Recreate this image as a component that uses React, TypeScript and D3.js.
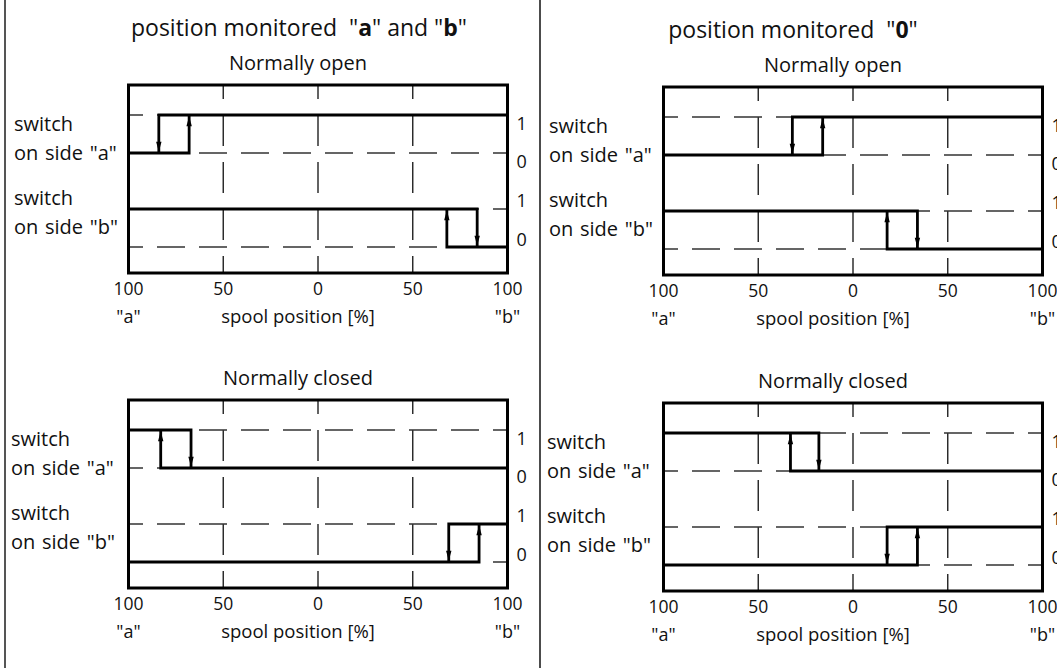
import React from 'react';
import * as d3 from 'd3';

const spoolTicks = [-100, -50, 0, 50, 100];
const endLabels = ['"a"', '"b"'];
const stateLabels = ['1', '0'];
const switchNames = ['a', 'b'];

// switching points [x1, x2] in % of spool stroke, "a" side negative
const abOpen = [[-84, -68], [68, 84]];
const abClosed = [[-83, -67], [69, 85]];
const zeroOpen = [[-32, -16], [18, 34]];
const zeroClosed = [[-33, -18], [18, 34]];

// switch state at the "a" end of the stroke, per switch a / b
const openStart = [0, 1];
const closedStart = [1, 0];

const W = 1057;
const H = 668;
const BOX_W = 379;
const BOX_H = 188;
const FONT = '"Open Sans", "Noto Sans", sans-serif';

type PanelProps = {
  left: number;
  top: number;
  labelX: number;
  subtitle: string;
  edges: number[][];
  start: number[];
};

const Panel: React.FC<PanelProps> = ({ left, top, labelX, subtitle, edges, start }) => {
  const x = d3.scaleLinear().domain([-100, 100]).range([left, left + BOX_W]);
  const cx = left + BOX_W / 2 - 20;

  // y of state 0/1 for switch i
  const level = (i: number, s: number) => top + 30 + i * 94 + (s === 1 ? 0 : 38);

  // arrowhead sitting on the vertical, tip on the target level
  const arrow = (px: number, fromY: number, toY: number) => {
    const sign = toY > fromY ? 1 : -1;
    const tip = toY - sign * 1.3;
    const base = tip - sign * 10;
    return `M${px},${tip}L${px - 2.7},${base}L${px + 2.7},${base}Z`;
  };

  return (
    <g>
      <text x={cx} y={top - 15} textAnchor="middle" fontSize={20}>{subtitle}</text>

      {/* vertical grid */}
      {spoolTicks.slice(1, -1).map(t => (
        <line key={t} x1={x(t)} x2={x(t)} y1={top} y2={top + BOX_H}
          stroke="#222" strokeWidth={1.4} strokeDasharray="31 16" strokeDashoffset={17} />
      ))}

      {/* dashed state levels */}
      {switchNames.map((_, i) => [1, 0].map(s => (
        <line key={`${i}-${s}`} x1={left} x2={left + BOX_W} y1={level(i, s)} y2={level(i, s)}
          stroke="#333" strokeWidth={1.3} strokeDasharray="28 14" strokeDashoffset={13.5} />
      )))}

      {/* switching traces */}
      {edges.map(([x1, x2], i) => {
        const s = start[i];
        const o = 1 - s;
        const p = d3.path();
        p.moveTo(x(-100), level(i, s));
        p.lineTo(x(x2), level(i, s));
        p.lineTo(x(x2), level(i, o));
        p.moveTo(x(x1), level(i, s));
        p.lineTo(x(x1), level(i, o));
        p.lineTo(x(100), level(i, o));
        return (
          <g key={i}>
            <path d={p.toString()} fill="none" stroke="#000" strokeWidth={2.8} />
            <path d={arrow(x(x2), level(i, s), level(i, o))} fill="#000" />
            <path d={arrow(x(x1), level(i, o), level(i, s))} fill="#000" />
          </g>
        );
      })}

      <rect x={left} y={top} width={BOX_W} height={BOX_H} fill="none" stroke="#000" strokeWidth={3} />

      {/* switch labels */}
      {switchNames.map((n, i) => (
        <g key={n} fontSize={20} wordSpacing={1.5}>
          <text x={labelX} y={top + 46 + i * 74}>switch</text>
          <text x={labelX} y={top + 75 + i * 74}>on side "{n}"</text>
        </g>
      ))}

      {/* state labels on the right */}
      {switchNames.map((n, i) => stateLabels.map((l, j) => (
        <text key={`${n}${l}`} x={left + BOX_W + 9} y={top + 45 + i * 77 + j * 38 + (i === 1 ? j : 0)}
          fontSize={18}>{l}</text>
      )))}

      {/* spool axis */}
      {spoolTicks.map(t => (
        <text key={t} x={x(t)} y={top + 210} textAnchor="middle" fontSize={17.5}>{Math.abs(t)}</text>
      ))}
      {endLabels.map((l, i) => (
        <text key={l} x={x(i === 0 ? -100 : 100)} y={top + 238} textAnchor="middle" fontSize={18}>{l}</text>
      ))}
      <text x={cx} y={top + 238} textAnchor="middle" fontSize={18.5}>spool position [%]</text>
    </g>
  );
};

export default function App() {
  return (
    <svg width={W} height={H} viewBox={`0 0 ${W} ${H}`}
      style={{ position: 'absolute', left: 0, top: 0, display: 'block', background: '#fff' }}
      fontFamily={FONT} fill="#111">
      <line x1={5} x2={5} y1={0} y2={H} stroke="#555" strokeWidth={2} />
      <line x1={540} x2={540} y1={0} y2={H} stroke="#111" strokeWidth={1.5} />

      <text x={299} y={36} textAnchor="middle" fontSize={23}>
        {'position monitored\u00A0 "'}<tspan fontWeight="bold">a</tspan>{'" and "'}<tspan fontWeight="bold">b</tspan>{'"'}
      </text>
      <text x={793} y={38} textAnchor="middle" fontSize={23}>
        {'position monitored\u00A0 "'}<tspan fontWeight="bold">0</tspan>{'"'}
      </text>

      <Panel left={128.5} top={85} labelX={14} subtitle="Normally open" edges={abOpen} start={openStart} />
      <Panel left={128.5} top={400} labelX={11} subtitle="Normally closed" edges={abClosed} start={closedStart} />
      <Panel left={663.5} top={87} labelX={549} subtitle="Normally open" edges={zeroOpen} start={openStart} />
      <Panel left={663.5} top={403} labelX={547} subtitle="Normally closed" edges={zeroClosed} start={closedStart} />
    </svg>
  );
}
